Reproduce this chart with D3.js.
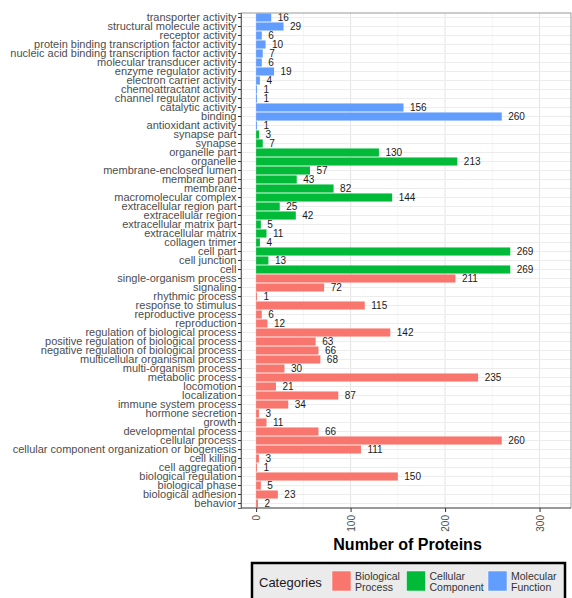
<!DOCTYPE html>
<html>
<head>
<meta charset="utf-8">
<script src="https://cdn.jsdelivr.net/npm/d3@7"></script>
<style>
  body { margin: 0; background: #fff; }
  svg { display: block; font-family: "Liberation Sans", Arial, sans-serif; }
</style>
</head>
<body>
<svg id="chart" width="572" height="598"></svg>
<script>
// GO term annotation counts, listed top to bottom
const molecularFunction = ["transporter activity","structural molecule activity","receptor activity",
  "protein binding transcription factor activity","nucleic acid binding transcription factor activity",
  "molecular transducer activity","enzyme regulator activity","electron carrier activity",
  "chemoattractant activity","channel regulator activity","catalytic activity","binding","antioxidant activity"];
const molecularFunctionCounts = [16,29,6,10,7,6,19,4,1,1,156,260,1];

const cellularComponent = ["synapse part","synapse","organelle part","organelle","membrane-enclosed lumen",
  "membrane part","membrane","macromolecular complex","extracellular region part","extracellular region",
  "extracellular matrix part","extracellular matrix","collagen trimer","cell part","cell junction","cell"];
const cellularComponentCounts = [3,7,130,213,57,43,82,144,25,42,5,11,4,269,13,269];

const biologicalProcess = ["single-organism process","signaling","rhythmic process","response to stimulus",
  "reproductive process","reproduction","regulation of biological process",
  "positive regulation of biological process","negative regulation of biological process",
  "multicellular organismal process","multi-organism process","metabolic process","locomotion",
  "localization","immune system process","hormone secretion","growth","developmental process",
  "cellular process","cellular component organization or biogenesis","cell killing","cell aggregation",
  "biological regulation","biological phase","biological adhesion","behavior"];
const biologicalProcessCounts = [211,72,1,115,6,12,142,63,66,68,30,235,21,87,34,3,11,66,260,111,3,1,150,5,23,2];

const groupNames = ["Biological Process","Cellular Component","Molecular Function"];
const groupColors = ["#F8766D","#00BA38","#619CFF"];
const xTicks = [0,100,200,300];

const rows = [];
molecularFunction.forEach((t,i) => rows.push({term:t, value:molecularFunctionCounts[i], group:"Molecular Function"}));
cellularComponent.forEach((t,i) => rows.push({term:t, value:cellularComponentCounts[i], group:"Cellular Component"}));
biologicalProcess.forEach((t,i) => rows.push({term:t, value:biologicalProcessCounts[i], group:"Biological Process"}));

const svg = d3.select("#chart");
const panel = {left: 241, top: 13, right: 571, bottom: 508};

const x = d3.scaleLinear().domain([-16, 333.3]).range([panel.left, panel.right]);
const y = d3.scaleBand().domain(rows.map(d => d.term))
  .range([panel.top, panel.bottom]).paddingInner(0.1).paddingOuter(0.05);
const color = d3.scaleOrdinal().domain(groupNames).range(groupColors);

// panel background and grid
svg.append("rect").attr("x", panel.left).attr("y", panel.top)
  .attr("width", panel.right - panel.left).attr("height", panel.bottom - panel.top)
  .attr("fill", "#fff");

const minor = [50,150,250];
svg.append("g").selectAll("line").data(minor).join("line")
  .attr("x1", d => x(d)).attr("x2", d => x(d))
  .attr("y1", panel.top).attr("y2", panel.bottom)
  .attr("stroke", "#f2f2f2").attr("stroke-width", 0.8);
svg.append("g").selectAll("line").data(xTicks).join("line")
  .attr("x1", d => x(d)).attr("x2", d => x(d))
  .attr("y1", panel.top).attr("y2", panel.bottom)
  .attr("stroke", "#e6e6e6").attr("stroke-width", 1.1);
svg.append("g").selectAll("line").data(rows).join("line")
  .attr("x1", panel.left).attr("x2", panel.right)
  .attr("y1", d => y(d.term) + y.bandwidth()/2).attr("y2", d => y(d.term) + y.bandwidth()/2)
  .attr("stroke", "#ececec").attr("stroke-width", 1);

// bars
svg.append("g").selectAll("rect").data(rows).join("rect")
  .attr("x", x(0)).attr("y", d => y(d.term))
  .attr("width", d => x(d.value) - x(0)).attr("height", y.bandwidth())
  .attr("fill", d => color(d.group));

// value labels
svg.append("g").selectAll("text").data(rows).join("text")
  .attr("x", d => x(d.value) + 6.5).attr("y", d => y(d.term) + y.bandwidth()/2)
  .attr("dy", "0.36em").attr("font-size", 10).attr("fill", "#1a1a1a")
  .text(d => d.value);

// panel border
svg.append("rect").attr("x", panel.left).attr("y", panel.top)
  .attr("width", panel.right - panel.left).attr("height", panel.bottom - panel.top)
  .attr("fill", "none").attr("stroke", "#999").attr("stroke-width", 1);

// y axis
const yAxis = svg.append("g").attr("transform", `translate(${panel.left},0)`)
  .call(d3.axisLeft(y).tickSize(3).tickPadding(1.5));
yAxis.select(".domain").attr("stroke", "#666");
yAxis.selectAll(".tick line").attr("stroke", "#333");
yAxis.selectAll(".tick text").attr("font-size", 11).attr("fill", "#4d4d4d")
  .attr("font-family", "'Liberation Sans', Arial, sans-serif");

// x axis
const xAxis = svg.append("g").attr("transform", `translate(0,${panel.bottom})`)
  .call(d3.axisBottom(x).tickValues(xTicks).tickSize(4).tickSizeOuter(0));
xAxis.select(".domain").attr("stroke", "#666").attr("d", `M${panel.left},0H${panel.right}`);
xAxis.selectAll(".tick line").attr("stroke", "#333");
xAxis.selectAll(".tick text")
  .attr("font-size", 10).attr("fill", "#4d4d4d")
  .attr("font-family", "'Liberation Sans', Arial, sans-serif")
  .attr("transform", "rotate(-90)")
  .attr("text-anchor", "end").attr("x", -7).attr("y", 0).attr("dy", "0.35em");

svg.append("text").attr("x", (x(0) + x(333.3)) / 2 - 6).attr("y", 550)
  .attr("text-anchor", "middle").attr("font-size", 16).attr("font-weight", "bold")
  .attr("fill", "#000").text("Number of Proteins");

// legend
const lg = svg.append("g");
lg.append("rect").attr("x", 252).attr("y", 563).attr("width", 313).attr("height", 40)
  .attr("fill", "#ebebeb").attr("stroke", "#000").attr("stroke-width", 2.5);
lg.append("text").attr("x", 259).attr("y", 586.5).attr("font-size", 13).attr("fill", "#1a1a1a")
  .text("Categories");
const legendItems = [
  {group: "Biological Process", lines: ["Biological","Process"], sx: 332, tx: 355},
  {group: "Cellular Component", lines: ["Cellular","Component"], sx: 406.5, tx: 429.5},
  {group: "Molecular Function", lines: ["Molecular","Function"], sx: 488, tx: 511}
];
const item = lg.selectAll("g.item").data(legendItems).join("g").attr("class", "item");
item.append("rect").attr("x", d => d.sx).attr("y", 571).attr("width", 19).attr("height", 20)
  .attr("fill", d => color(d.group)).attr("stroke", "#fff").attr("stroke-width", 0.5);
item.each(function(d) {
  const t = d3.select(this).append("text").attr("font-size", 10.5).attr("fill", "#333");
  d.lines.forEach((l, i) => t.append("tspan").attr("x", d.tx).attr("y", 580 + i * 11).text(l));
});
</script>
</body>
</html>
